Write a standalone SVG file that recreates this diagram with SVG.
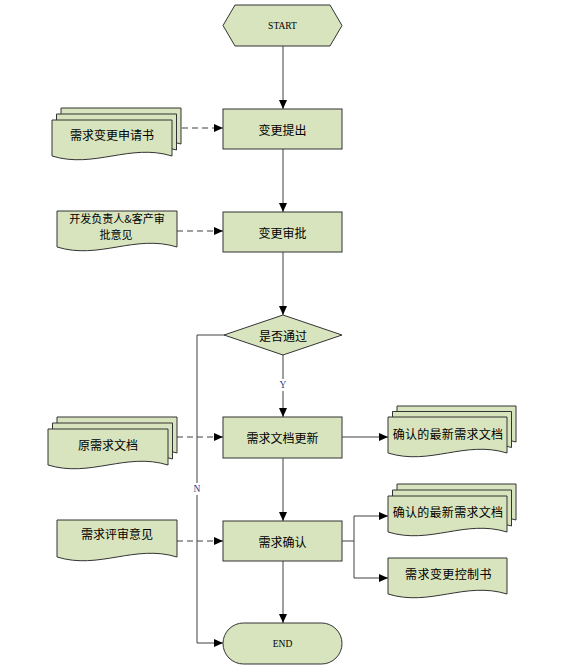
<svg xmlns="http://www.w3.org/2000/svg" width="572" height="669" viewBox="0 0 572 669">
<defs>
<style>
.s{fill:#d7e4bd;stroke:#333;stroke-width:1}
.c{fill:none;stroke:#404040;stroke-width:1}
.d{fill:none;stroke:#404040;stroke-width:1;stroke-dasharray:6 4}
.t{font-family:"Noto Sans CJK SC","Liberation Sans",sans-serif;font-size:12px;fill:#000;text-anchor:middle;dominant-baseline:central}
.t2{font-family:"Noto Sans CJK SC","Liberation Sans",sans-serif;font-size:11px;fill:#000;text-anchor:middle;dominant-baseline:central}
.e{font-family:"Liberation Serif",serif;font-size:9.5px;fill:#000;text-anchor:middle;dominant-baseline:central}
.lb{font-family:"Liberation Serif",serif;font-size:9.5px;text-anchor:middle;dominant-baseline:central;fill:#1f3f8f}
</style>
<marker id="a" markerWidth="9" markerHeight="8" refX="9" refY="4" orient="auto" markerUnits="userSpaceOnUse">
<path d="M0,0 L9,4 L0,8 Z" fill="#000"/>
</marker>
</defs>
<rect width="572" height="669" fill="#fff"/>

<g id="connectors">
<path class="c" d="M283,46 V109" marker-end="url(#a)"/>
<path class="c" d="M283,149 V212" marker-end="url(#a)"/>
<path class="c" d="M283,252 V315" marker-end="url(#a)"/>
<path class="c" d="M283,355 V417" marker-end="url(#a)"/>
<path class="c" d="M283,458 V521" marker-end="url(#a)"/>
<path class="c" d="M283,561 V623" marker-end="url(#a)"/>
<path class="c" d="M224,335 H197 V643 H223" marker-end="url(#a)"/>
<path class="d" d="M182,128 H223" marker-end="url(#a)"/>
<path class="d" d="M177,231 H223" marker-end="url(#a)"/>
<path class="d" d="M177,437 H223" marker-end="url(#a)"/>
<path class="d" d="M177,541 H223" marker-end="url(#a)"/>
<path class="c" d="M342,437 H388" marker-end="url(#a)"/>
<path class="c" d="M342,541 H354"/>
<path class="c" d="M354,516 V578"/>
<path class="c" d="M354,516 H388" marker-end="url(#a)"/>
<path class="c" d="M354,578 H388" marker-end="url(#a)"/>
<rect x="278" y="379" width="10" height="12" fill="#fff"/>
<text class="lb" x="283" y="385">Y</text>
<rect x="192" y="483" width="10" height="12" fill="#fff"/>
<text class="lb" x="197" y="489">N</text>
</g>

<g id="start">
<polygon class="s" points="223,25.5 235,5 330,5 342,25.5 330,46 235,46"/>
<text class="e" x="282.5" y="26">START</text>
</g>

<g id="n1">
<rect class="s" x="223" y="109" width="119" height="40"/>
<text class="t" x="282.5" y="129">变更提出</text>
</g>

<g id="n2">
<rect class="s" x="223" y="212" width="119" height="40"/>
<text class="t" x="282.5" y="232">变更审批</text>
</g>

<g id="decision">
<polygon class="s" points="224,335 283,315 342,335 283,355"/>
<text class="t" x="283" y="335">是否通过</text>
</g>

<g id="n3">
<rect class="s" x="223" y="417" width="119" height="41"/>
<text class="t" x="282.5" y="437.5">需求文档更新</text>
</g>

<g id="n4">
<rect class="s" x="223" y="521" width="119" height="40"/>
<text class="t" x="282.5" y="541">需求确认</text>
</g>

<g id="end">
<rect class="s" x="223" y="623" width="119" height="41" rx="20.5" ry="20.5"/>
<text class="e" x="282.5" y="643.5">END</text>
</g>

<g id="doc1">
<path class="s" d="M61,108 H181 V144 C139,131 103,157 61,144 Z"/>
<path class="s" d="M56.5,114 H176.5 V150 C134.5,137 98.5,163 56.5,150 Z"/>
<path class="s" d="M52,120 H172 V156 C130,143 94,169 52,156 Z"/>
<text class="t" x="112" y="134">需求变更申请书</text>
</g>

<g id="doc2">
<path class="s" d="M57,211 H177 V247 C135,234 99,260 57,247 Z"/>
<text class="t2" x="117" y="218">开发负责人&amp;客产审</text>
<text class="t2" x="116" y="234">批意见</text>
</g>

<g id="doc3">
<path class="s" d="M57,417 H177 V453 C135,440 99,466 57,453 Z"/>
<path class="s" d="M52.5,423 H172.5 V459 C130.5,446 94.5,472 52.5,459 Z"/>
<path class="s" d="M48,429 H168 V465 C126,452 90,478 48,465 Z"/>
<text class="t" x="108" y="444">原需求文档</text>
</g>

<g id="doc4">
<path class="s" d="M397,406 H516 V442 C474,429 439,455 397,442 Z"/>
<path class="s" d="M392.5,411.5 H511.5 V447.5 C469.5,434.5 434.5,460.5 392.5,447.5 Z"/>
<path class="s" d="M388,417 H507 V453 C465,440 430,466 388,453 Z"/>
<text class="t" x="448" y="433" style="letter-spacing:0.3px">确认的最新需求文档</text>
</g>

<g id="doc5">
<path class="s" d="M397,484 H516 V520 C474,507 439,533 397,520 Z"/>
<path class="s" d="M392.5,490 H511.5 V526 C469.5,513 434.5,539 392.5,526 Z"/>
<path class="s" d="M388,496 H507 V532 C465,519 430,545 388,532 Z"/>
<text class="t" x="448" y="511" style="letter-spacing:0.3px">确认的最新需求文档</text>
</g>

<g id="doc6">
<path class="s" d="M388,558 H507 V594 C465,581 430,607 388,594 Z"/>
<text class="t" x="448.5" y="573.5" style="letter-spacing:0.4px">需求变更控制书</text>
</g>

<g id="doc7">
<path class="s" d="M57,520 H177 V557 C135,544 99,570 57,557 Z"/>
<text class="t" x="117" y="533.5">需求评审意见</text>
</g>
</svg>
